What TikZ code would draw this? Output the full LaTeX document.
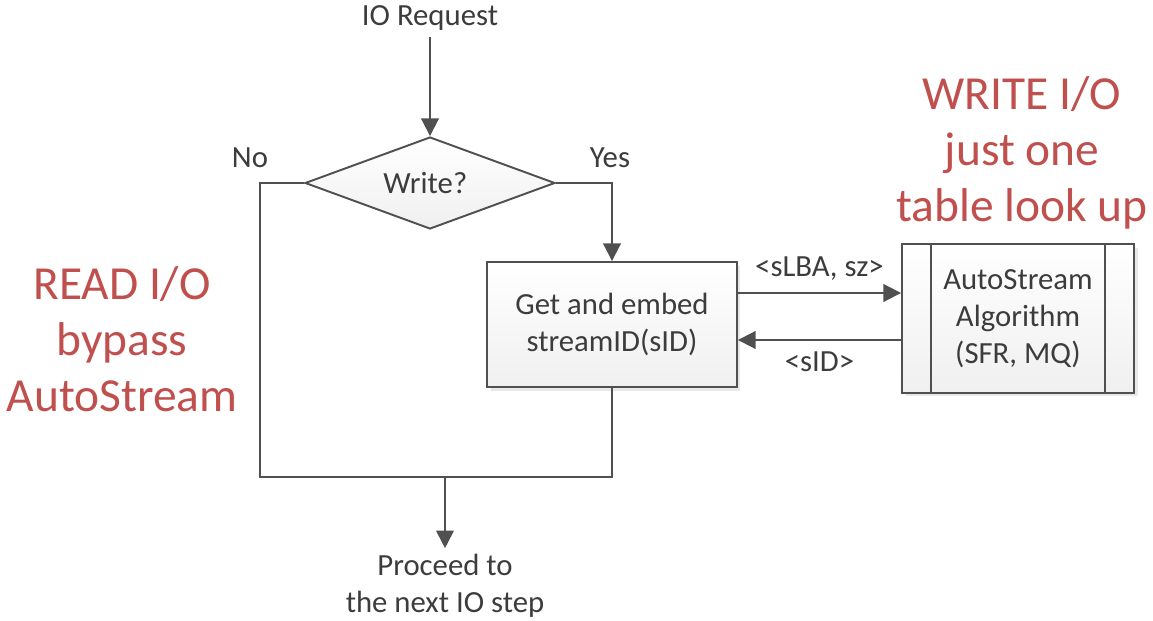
\documentclass[tikz,border=0pt]{standalone}
\usepackage{fontspec}
\setmainfont{Carlito}
\usetikzlibrary{arrows.meta,positioning,shapes.geometric,shadows,calc}
\definecolor{linegray}{HTML}{505050}
\definecolor{textgray}{HTML}{3C3C3C}
\definecolor{notered}{HTML}{C0504D}

\begin{document}
\begin{tikzpicture}[x=0.02cm, y=-0.02cm,
    every node/.style={
        font=\fontsize{17.5}{21}\selectfont,
        text=textgray,
        align=center
    },
    flow/.style={draw=linegray, line width=1.1pt},
    flowarrow/.style={flow, -{Triangle[width=10pt, length=10pt]}},
    procbox/.style={
        rectangle,
        draw=linegray,
        line width=1.1pt,
        top color=white,
        bottom color=gray!12,
        drop shadow={shadow xshift=2pt, shadow yshift=-2pt, fill=gray!35}
    },
    decision/.style={
        diamond,
        aspect=2.7,
        draw=linegray,
        line width=1.1pt,
        inner sep=0pt,
        top color=white,
        bottom color=gray!12
    },
    note/.style={
        font=\fontsize{27}{32}\selectfont,
        text=notered
    }
]
    \useasboundingbox (0,0) rectangle (1153,621);

    \node (io_request) at (430, 18) {IO Request};

    \node (write) [decision, minimum width=5cm, minimum height=1.84cm] at (430, 183)
    {
        Write?
    };

    \node (no_label) at (250, 158) {No};
    \node (yes_label) at (610, 158) {Yes};

    \node (embed) [procbox, minimum width=5cm, minimum height=2.5cm] at (612, 324.5)
    {
        Get and embed\\streamID(sID)
    };

    \node (algo) [procbox, minimum width=4.64cm, minimum height=2.98cm] at (1018, 318.5)
    {
        AutoStream\\Algorithm\\(SFR, MQ)
    };
    \draw[flow] ($(algo.north west)+(30,0)$) -- ($(algo.south west)+(30,0)$);
    \draw[flow] ($(algo.north east)+(-30,0)$) -- ($(algo.south east)+(-30,0)$);

    \node (next_step) at (445, 586)
    {
        Proceed to\\the next IO step
    };

    \node (read_note) [note] at (122, 339)
    {
        READ I/O\\bypass\\AutoStream
    };

    \node (write_note) [note] at (1022, 153)
    {
        WRITE I/O\\just one\\table look up
    };

    \coordinate (join_left) at (260, 477);
    \coordinate (join) at (445, 477);

    \draw[flowarrow] (io_request) -- (write.north);
    \draw[flowarrow] (write.east) -| (embed.north);
    \draw[flow] (write.west) -| (join_left) -- (join);
    \draw[flow] (embed.south) |- (join);
    \draw[flowarrow] (join) -- (next_step.north);

    \draw[flowarrow] (embed.east |- 0, 293) -- (algo.west |- 0, 293)
        node (slba_label) [midway, above=3pt] {<sLBA, sz>};
    \draw[flowarrow] (algo.west |- 0, 340) -- (embed.east |- 0, 340)
        node (sid_label) [midway, below=3pt] {<sID>};
\end{tikzpicture}
\end{document}
